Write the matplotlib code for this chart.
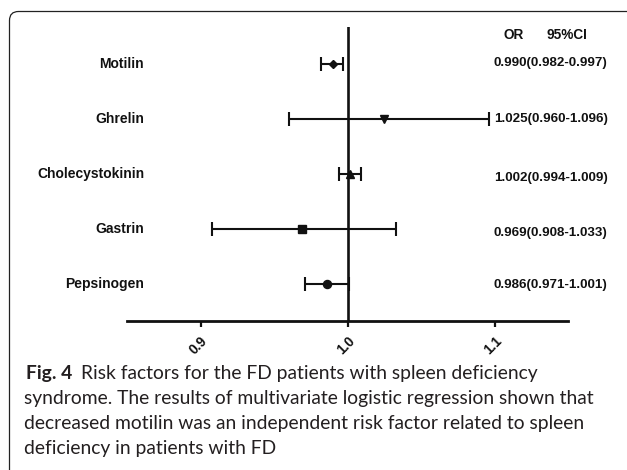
import matplotlib
matplotlib.use("Agg")
import matplotlib.pyplot as plt
from matplotlib import transforms
from matplotlib.patches import FancyBboxPatch

# ---- data -------------------------------------------------------------
names = ["Motilin", "Ghrelin", "Cholecystokinin", "Gastrin", "Pepsinogen"]
odds_ratio = [0.990, 1.025, 1.002, 0.969, 0.986]
ci_low = [0.982, 0.960, 0.994, 0.908, 0.971]
ci_high = [0.997, 1.096, 1.009, 1.033, 1.001]

x_ticks = [0.9, 1.0, 1.1]
x_tick_labels = ["0.9", "1.0", "1.1"]

header_or = "OR"
header_ci = "95%CI"

caption_bold = "Fig. 4"
caption_lines = [
    "Risk factors for the FD patients with spleen deficiency",
    "syndrome. The results of multivariate logistic regression shown that",
    "decreased motilin was an independent risk factor related to spleen",
    "deficiency in patients with FD",
]

# ---- styling ----------------------------------------------------------
markers = ["D", "v", "^", "s", "o"]
marker_sizes = [4.5, 6.0, 6.0, 6.0, 5.8]
ci_text_nudge = [1, 0, -3, -3, -1]   # vertical nudge of the OR text, points
INK = "#111111"
LABEL_FONT = ["Liberation Sans", "DejaVu Sans"]
CAPTION_FONT = ["Lato", "DejaVu Sans"]

W, H, DPI = 627, 470, 100
fig = plt.figure(figsize=(W / DPI, H / DPI), dpi=DPI)
fig.patch.set_facecolor("white")

# rounded frame around the figure panel (opens off the right/bottom edge)
frame = FancyBboxPatch((9.5 / DPI, -0.5), 8.0, (H - 11.5) / DPI + 0.5,
                       boxstyle="round,pad=0,rounding_size=0.09",
                       transform=fig.dpi_scale_trans, fill=False,
                       edgecolor="#222222", linewidth=0.9, clip_on=False)
fig.add_artist(frame)

# plot area
ax_left, ax_right, ax_top, ax_bottom = 127, 568, 27, 321
ax = fig.add_axes([ax_left / W, 1 - ax_bottom / H,
                   (ax_right - ax_left) / W, (ax_bottom - ax_top) / H])
n = len(names)
ypos = list(range(n, 0, -1))
margin = 0.673
ax.set_xlim(0.85, 1.15)
ax.set_ylim(1 - margin, n + margin)
ax.patch.set_alpha(0)

ax.axvline(1.0, color=INK, lw=1.9, zorder=1)

for i in range(n):
    err = [[odds_ratio[i] - ci_low[i]], [ci_high[i] - odds_ratio[i]]]
    ax.errorbar([odds_ratio[i]], [ypos[i]], xerr=err, fmt=markers[i],
                color=INK, ms=marker_sizes[i], elinewidth=1.5,
                capsize=5.0, capthick=1.5, zorder=3)

for side in ("top", "right", "left"):
    ax.spines[side].set_visible(False)
ax.spines["bottom"].set_linewidth(2.0)
ax.spines["bottom"].set_color(INK)
ax.set_yticks([])
ax.set_xticks(x_ticks)
ax.set_xticklabels(x_tick_labels, rotation=45, ha="right", va="top",
                   rotation_mode="anchor", fontweight="bold", fontsize=9.8,
                   family=LABEL_FONT, color=INK)
ax.tick_params(axis="x", direction="out", length=4.5, width=1.6,
               color=INK, pad=5)

# row labels and OR (95% CI) column
row_tr = transforms.blended_transform_factory(fig.transFigure, ax.transData)
for i in range(n):
    ax.text(144 / W, ypos[i], names[i], transform=row_tr, ha="right",
            va="center", fontsize=10, fontweight="bold", family=LABEL_FONT,
            color=INK)
    txt = f"{odds_ratio[i]:.3f}({ci_low[i]:.3f}-{ci_high[i]:.3f})"
    tr = transforms.offset_copy(row_tr, fig=fig, x=0, y=ci_text_nudge[i],
                                units="points")
    ax.text(494 / W, ypos[i], txt, transform=tr, ha="left", va="center",
            fontsize=9.6, fontweight="bold", family=LABEL_FONT, color=INK)

header_y = n + (64 - 35) / 55
ax.text(514 / W, header_y, header_or, transform=row_tr, ha="center",
        va="center", fontsize=9.8, fontweight="bold", family=LABEL_FONT,
        color=INK)
ax.text(567 / W, header_y, header_ci, transform=row_tr, ha="center",
        va="center", fontsize=9.8, fontweight="bold", family=LABEL_FONT,
        color=INK)

# ---- caption ----------------------------------------------------------
renderer = fig.canvas.get_renderer()
probe = fig.text(0, 0, caption_lines[1], fontsize=12, family=CAPTION_FONT)
probe_w = probe.get_window_extent(renderer).width
probe.remove()
cap_size = 12 * 569 / probe_w

baselines = [379, 404, 429, 454]
cap_color = "#231f20"
bold = fig.text(26 / W, 1 - baselines[0] / H, caption_bold,
                fontsize=cap_size, fontweight="bold", family=CAPTION_FONT,
                va="baseline", ha="left", color=cap_color)
bold_w = bold.get_window_extent(renderer).width
fig.text((26 + bold_w + 0.6 * cap_size) / W, 1 - baselines[0] / H,
         caption_lines[0], fontsize=cap_size, family=CAPTION_FONT,
         va="baseline", ha="left", color=cap_color)
for k in range(1, len(caption_lines)):
    fig.text(24 / W, 1 - baselines[k] / H, caption_lines[k],
             fontsize=cap_size, family=CAPTION_FONT, va="baseline",
             ha="left", color=cap_color)

fig.savefig("out.png", dpi=DPI, facecolor="white")
